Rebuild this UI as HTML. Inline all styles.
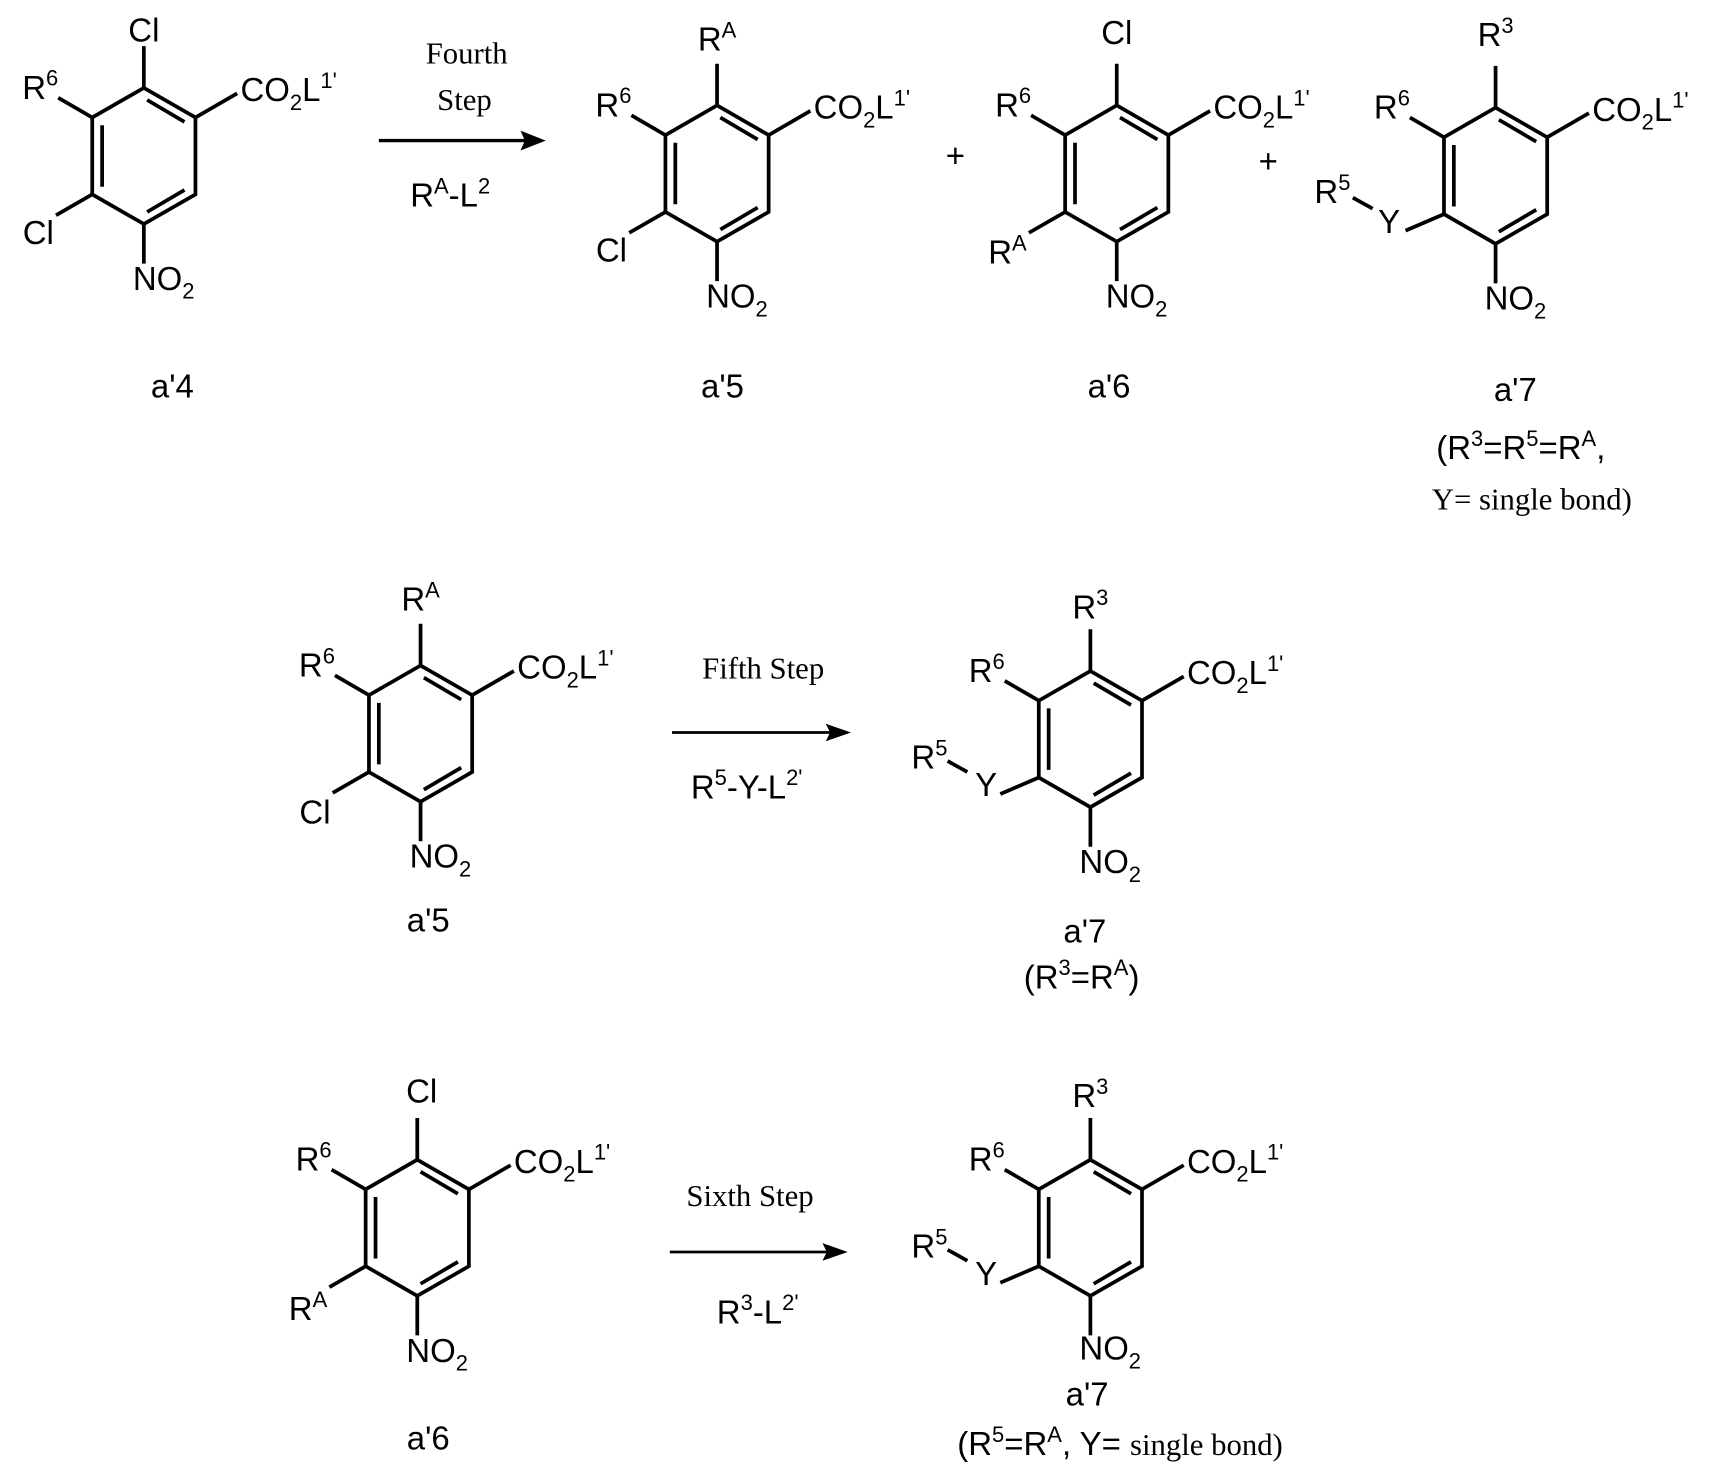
<!DOCTYPE html>
<html><head><meta charset="utf-8"><style>
html,body{margin:0;padding:0;background:#fff;}
svg{display:block}
.a{font-family:"Liberation Sans",sans-serif;font-size:30px;fill:#000}
.s{font-family:"Liberation Serif",serif;font-size:28px;fill:#000}
.sup{font-size:20px}
</style></head><body>
<svg width="1713" height="1465" viewBox="0 0 1560 1334" preserveAspectRatio="none" xmlns="http://www.w3.org/2000/svg">
<defs>
<g id="ring" stroke="#000" stroke-width="3.4" fill="none">
<path d="M0,-62 L47,-35 L47,35 L0,62 L-47,35 L-47,-35 Z"/>
<path d="M3,-51 L37,-31 M-38,-28 L-38,28 M3,51 L37,31"/>
<path d="M0,-62 L0,-100 M47,-35 L85,-57 M-47,-35 L-78,-53 M0,62 L0,98"/>
</g>
<g id="ll" stroke="#000" stroke-width="3.4"><path d="M-47,35 L-80,54"/></g>
<g id="ly" stroke="#000" stroke-width="3.4"><path d="M-47,35 L-82,50 M-130,20 L-112,30"/></g>
</defs>

<!-- a'4 -->
<g transform="translate(131,142)">
<use href="#ring"/><use href="#ll"/>
<text class="a" x="0" y="-104" text-anchor="middle">Cl</text>
<text class="a" x="88" y="-50">CO<tspan class="sup" dy="8">2</tspan><tspan dy="-8">L</tspan><tspan class="sup" dy="-12">1'</tspan></text>
<text class="a" x="-78" y="-52" text-anchor="end">R<tspan class="sup" dy="-12">6</tspan></text>
<text class="a" x="-82" y="80" text-anchor="end">Cl</text>
<text class="a" x="-10" y="122">NO<tspan class="sup" dy="8">2</tspan></text>
</g>

<!-- arrow 1 -->
<path d="M345,128 L480,128" stroke="#000" stroke-width="3"/>
<path d="M497,128 L474,119 L478,128 L474,137 Z" fill="#000"/>
<text class="s" x="425" y="58" text-anchor="middle">Fourth</text>
<text class="s" x="423" y="100" text-anchor="middle">Step</text>
<text class="a" x="410" y="188" text-anchor="middle">R<tspan class="sup" dy="-12">A</tspan><tspan dy="12">-L</tspan><tspan class="sup" dy="-12">2</tspan></text>

<!-- a'5 top -->
<g transform="translate(653,158)">
<use href="#ring"/><use href="#ll"/>
<text class="a" x="0" y="-112" text-anchor="middle">R<tspan class="sup" dy="-12">A</tspan></text>
<text class="a" x="88" y="-50">CO<tspan class="sup" dy="8">2</tspan><tspan dy="-8">L</tspan><tspan class="sup" dy="-12">1'</tspan></text>
<text class="a" x="-78" y="-52" text-anchor="end">R<tspan class="sup" dy="-12">6</tspan></text>
<text class="a" x="-82" y="80" text-anchor="end">Cl</text>
<text class="a" x="-10" y="122">NO<tspan class="sup" dy="8">2</tspan></text>
</g>

<text class="a" x="870" y="152" text-anchor="middle">+</text>
<text class="a" x="1155" y="157" text-anchor="middle">+</text>

<!-- a'6 top -->
<g transform="translate(1017,158)">
<use href="#ring"/><use href="#ll"/>
<text class="a" x="0" y="-118" text-anchor="middle">Cl</text>
<text class="a" x="88" y="-50">CO<tspan class="sup" dy="8">2</tspan><tspan dy="-8">L</tspan><tspan class="sup" dy="-12">1'</tspan></text>
<text class="a" x="-78" y="-52" text-anchor="end">R<tspan class="sup" dy="-12">6</tspan></text>
<text class="a" x="-82" y="82" text-anchor="end">R<tspan class="sup" dy="-12">A</tspan></text>
<text class="a" x="-10" y="122">NO<tspan class="sup" dy="8">2</tspan></text>
</g>

<!-- a'7 top -->
<g transform="translate(1362,160)">
<use href="#ring"/><use href="#ly"/>
<text class="a" x="0" y="-118" text-anchor="middle">R<tspan class="sup" dy="-12">3</tspan></text>
<text class="a" x="88" y="-50">CO<tspan class="sup" dy="8">2</tspan><tspan dy="-8">L</tspan><tspan class="sup" dy="-12">1'</tspan></text>
<text class="a" x="-78" y="-52" text-anchor="end">R<tspan class="sup" dy="-12">6</tspan></text>
<text class="a" x="-97" y="52" text-anchor="middle">Y</text>
<text class="a" x="-165" y="25">R<tspan class="sup" dy="-12">5</tspan></text>
<text class="a" x="-10" y="122">NO<tspan class="sup" dy="8">2</tspan></text>
</g>

<text class="a" x="157" y="362" text-anchor="middle">a'4</text>
<text class="a" x="658" y="362" text-anchor="middle">a'5</text>
<text class="a" x="1010" y="362" text-anchor="middle">a'6</text>
<text class="a" x="1380" y="365" text-anchor="middle">a'7</text>
<text class="a" x="1385" y="418" text-anchor="middle">(R<tspan class="sup" dy="-12">3</tspan><tspan dy="12">=R</tspan><tspan class="sup" dy="-12">5</tspan><tspan dy="12">=R</tspan><tspan class="sup" dy="-12">A</tspan><tspan dy="12">,</tspan></text>
<text class="s" x="1395" y="464" text-anchor="middle">Y= single bond)</text>

<!-- a'5 middle -->
<g transform="translate(383,668)">
<use href="#ring"/><use href="#ll"/>
<text class="a" x="0" y="-112" text-anchor="middle">R<tspan class="sup" dy="-12">A</tspan></text>
<text class="a" x="88" y="-50">CO<tspan class="sup" dy="8">2</tspan><tspan dy="-8">L</tspan><tspan class="sup" dy="-12">1'</tspan></text>
<text class="a" x="-78" y="-52" text-anchor="end">R<tspan class="sup" dy="-12">6</tspan></text>
<text class="a" x="-82" y="82" text-anchor="end">Cl</text>
<text class="a" x="-10" y="122">NO<tspan class="sup" dy="8">2</tspan></text>
</g>

<path d="M612,667 L758,667" stroke="#000" stroke-width="2.5"/>
<path d="M775,667 L752,659 L756,667 L752,675 Z" fill="#000"/>
<text class="s" x="695" y="618" text-anchor="middle">Fifth Step</text>
<text class="a" x="680" y="727" text-anchor="middle">R<tspan class="sup" dy="-12">5</tspan><tspan dy="12">-Y-L</tspan><tspan class="sup" dy="-12">2'</tspan></text>

<!-- a'7 middle -->
<g transform="translate(993,673)">
<use href="#ring"/><use href="#ly"/>
<text class="a" x="0" y="-110" text-anchor="middle">R<tspan class="sup" dy="-12">3</tspan></text>
<text class="a" x="88" y="-50">CO<tspan class="sup" dy="8">2</tspan><tspan dy="-8">L</tspan><tspan class="sup" dy="-12">1'</tspan></text>
<text class="a" x="-78" y="-52" text-anchor="end">R<tspan class="sup" dy="-12">6</tspan></text>
<text class="a" x="-95" y="52" text-anchor="middle">Y</text>
<text class="a" x="-163" y="27">R<tspan class="sup" dy="-12">5</tspan></text>
<text class="a" x="-10" y="122">NO<tspan class="sup" dy="8">2</tspan></text>
</g>

<text class="a" x="390" y="848" text-anchor="middle">a'5</text>
<text class="a" x="988" y="858" text-anchor="middle">a'7</text>
<text class="a" x="985" y="900" text-anchor="middle">(R<tspan class="sup" dy="-12">3</tspan><tspan dy="12">=R</tspan><tspan class="sup" dy="-12">A</tspan><tspan dy="12">)</tspan></text>

<!-- a'6 bottom -->
<g transform="translate(380,1118)">
<use href="#ring"/><use href="#ll"/>
<text class="a" x="4" y="-114" text-anchor="middle">Cl</text>
<text class="a" x="88" y="-50">CO<tspan class="sup" dy="8">2</tspan><tspan dy="-8">L</tspan><tspan class="sup" dy="-12">1'</tspan></text>
<text class="a" x="-78" y="-52" text-anchor="end">R<tspan class="sup" dy="-12">6</tspan></text>
<text class="a" x="-82" y="84" text-anchor="end">R<tspan class="sup" dy="-12">A</tspan></text>
<text class="a" x="-10" y="122">NO<tspan class="sup" dy="8">2</tspan></text>
</g>

<path d="M610,1140 L755,1140" stroke="#000" stroke-width="2.5"/>
<path d="M772,1140 L749,1132 L753,1140 L749,1148 Z" fill="#000"/>
<text class="s" x="683" y="1098" text-anchor="middle">Sixth Step</text>
<text class="a" x="690" y="1205" text-anchor="middle">R<tspan class="sup" dy="-12">3</tspan><tspan dy="12">-L</tspan><tspan class="sup" dy="-12">2'</tspan></text>

<!-- a'7 bottom -->
<g transform="translate(993,1118)">
<use href="#ring"/><use href="#ly"/>
<text class="a" x="0" y="-110" text-anchor="middle">R<tspan class="sup" dy="-12">3</tspan></text>
<text class="a" x="88" y="-50">CO<tspan class="sup" dy="8">2</tspan><tspan dy="-8">L</tspan><tspan class="sup" dy="-12">1'</tspan></text>
<text class="a" x="-78" y="-52" text-anchor="end">R<tspan class="sup" dy="-12">6</tspan></text>
<text class="a" x="-95" y="52" text-anchor="middle">Y</text>
<text class="a" x="-163" y="27">R<tspan class="sup" dy="-12">5</tspan></text>
<text class="a" x="-10" y="120">NO<tspan class="sup" dy="8">2</tspan></text>
</g>

<text class="a" x="990" y="1280" text-anchor="middle">a'7</text>
<text class="a" x="390" y="1320" text-anchor="middle">a'6</text>
<text x="1020" y="1325" text-anchor="middle"><tspan class="a">(R</tspan><tspan class="a sup" dy="-12">5</tspan><tspan class="a" dy="12">=R</tspan><tspan class="a sup" dy="-12">A</tspan><tspan class="a" dy="12">, Y= </tspan><tspan class="s">single bond)</tspan></text>
</svg>
</body></html>
